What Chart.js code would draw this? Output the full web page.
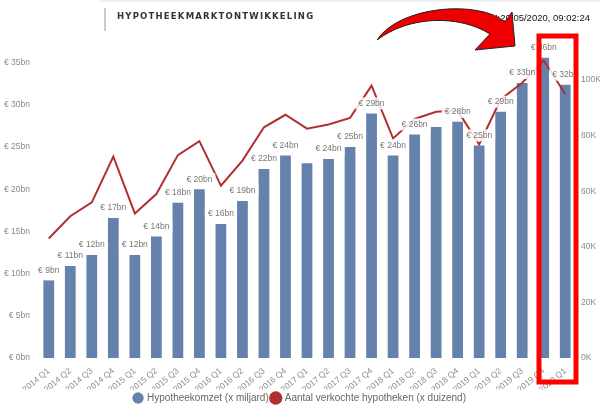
<!DOCTYPE html>
<html>
<head>
<meta charset="utf-8">
<script src="https://cdn.jsdelivr.net/npm/chart.js@4/dist/chart.umd.min.js"></script>
<style>
  html, body { margin: 0; padding: 0; background: #fff; }
  #wrap { position: relative; width: 600px; height: 407px; }
</style>
</head>
<body>
<div id="wrap"><canvas id="grafico"></canvas></div>
<script>
var kwartalen = ['2014 Q1', '2014 Q2', '2014 Q3', '2014 Q4', '2015 Q1', '2015 Q2', '2015 Q3', '2015 Q4',
  '2016 Q1', '2016 Q2', '2016 Q3', '2016 Q4', '2017 Q1', '2017 Q2', '2017 Q3', '2017 Q4',
  '2018 Q1', '2018 Q2', '2018 Q3', '2018 Q4', '2019 Q1', '2019 Q2', '2019 Q3', '2019 Q4', '2020 Q1'];
var omzet = [9.2, 10.9, 12.2, 16.6, 12.2, 14.4, 18.4, 20.0, 15.9, 18.6, 22.4, 24.0, 23.1, 23.6, 25.0, 29.0,
  24.0, 26.5, 27.4, 28.0, 25.2, 29.2, 32.6, 35.6, 32.4];
var omzetLabels = ['€ 9bn', '€ 11bn', '€ 12bn', '€ 17bn', '€ 12bn', '€ 14bn', '€ 18bn', '€ 20bn', '€ 16bn',
  '€ 19bn', '€ 22bn', '€ 24bn', '', '€ 24bn', '€ 25bn', '€ 29bn', '€ 24bn', '€ 26bn', '', '€ 28bn',
  '€ 25bn', '€ 29bn', '€ 33bn', '€ 36bn', '€ 32bn'];
var verkocht = [43, 51, 56, 72.5, 52, 59, 73, 78, 62, 71, 83, 87.5, 82.5, 84, 86.4, 98, 79, 86, 88.6, 89,
  76.8, 93, 99, 107, 95];
var linksTicks = [0, 5, 10, 15, 20, 25, 30, 35];
var rechtsTicks = [0, 20, 40, 60, 80, 100];

var grijs = '#8a8a8a';
var lettertype = '"Liberation Sans", Arial, sans-serif';

var labelPlugin = {
  id: 'omzetLabels',
  afterDatasetsDraw: function (chart) {
    var ctx = chart.ctx;
    var meta = chart.getDatasetMeta(0);
    ctx.save();
    ctx.font = '8.5px ' + lettertype;
    ctx.textAlign = 'center';
    ctx.textBaseline = 'middle';
    meta.data.forEach(function (bar, i) {
      var tekst = omzetLabels[i];
      if (!tekst) return;
      var w = ctx.measureText(tekst).width + 6;
      var y = bar.y - 10;
      ctx.fillStyle = 'rgba(255,255,255,0.85)';
      ctx.fillRect(bar.x - w / 2, y - 6, w, 12);
      ctx.fillStyle = '#777';
      ctx.fillText(tekst, bar.x, y);
    });
    ctx.restore();
  }
};

var decorPlugin = {
  id: 'decor',
  afterDraw: function (chart) {
    var ctx = chart.ctx;
    ctx.save();
    // kop
    ctx.fillStyle = '#eeeeee';
    ctx.fillRect(100, 0, 500, 2);
    ctx.fillStyle = '#cccccc';
    ctx.fillRect(104, 8, 2, 23);
    ctx.fillStyle = '#333';
    ctx.font = 'bold 8.5px "DejaVu Sans", sans-serif';
    ctx.textBaseline = 'middle';
    ctx.textAlign = 'left';
    var titel = 'HYPOTHEEKMARKTONTWIKKELING';
    var x = 117;
    for (var i = 0; i < titel.length; i++) {
      ctx.fillText(titel[i], x, 17);
      x += ctx.measureText(titel[i]).width + 1.2;
    }
    ctx.fillStyle = '#111';
    ctx.font = '9.5px ' + lettertype;
    ctx.textAlign = 'right';
    ctx.fillText('LAST REFRESH:20/05/2020, 09:02:24', 590, 18);
    // pijl
    ctx.fillStyle = '#ee0000';
    ctx.strokeStyle = '#222';
    ctx.lineWidth = 1;
    ctx.beginPath();
    ctx.moveTo(377, 40);
    ctx.bezierCurveTo(400, 5, 480, 0, 505, 22);
    ctx.lineTo(512, 12);
    ctx.lineTo(515, 46);
    ctx.lineTo(475, 50);
    ctx.lineTo(490, 34);
    ctx.bezierCurveTo(460, 15, 410, 15, 377, 40);
    ctx.closePath();
    ctx.fill();
    ctx.stroke();
    // kader
    ctx.strokeStyle = '#ff0000';
    ctx.lineWidth = 5;
    ctx.strokeRect(539, 36, 37, 346);
    ctx.restore();
  }
};

new Chart(document.getElementById('grafico'), {
  data: {
    labels: kwartalen,
    datasets: [{
      type: 'bar',
      label: 'Hypotheekomzet (x miljard)',
      data: omzet,
      yAxisID: 'links',
      backgroundColor: '#6482ab',
      categoryPercentage: 1,
      barPercentage: 0.5,
      order: 2
    }, {
      type: 'line',
      label: 'Aantal verkochte hypotheken (x duizend)',
      data: verkocht,
      yAxisID: 'rechts',
      borderColor: '#b03030',
      backgroundColor: '#b03030',
      borderWidth: 2,
      pointRadius: 0,
      tension: 0,
      order: 1
    }]
  },
  plugins: [labelPlugin, decorPlugin],
  options: {
    responsive: true,
    maintainAspectRatio: false,
    animation: false,
    layout: { padding: { top: 40, left: 0, right: 0, bottom: -6 } },
    plugins: {
      tooltip: { enabled: false },
      legend: {
        position: 'bottom',
        labels: {
          usePointStyle: true,
          pointStyle: 'circle',
          boxWidth: 8,
          boxHeight: 8,
          padding: 3,
          color: '#666',
          font: { size: 10, family: lettertype },
          sort: function (a, b) { return a.datasetIndex - b.datasetIndex; }
        }
      }
    },
    scales: {
      x: {
        grid: { display: false },
        border: { display: false },
        afterFit: function (axis) { axis.height = 32; },
        ticks: {
          color: grijs,
          maxRotation: 40,
          minRotation: 40,
          autoSkip: false,
          padding: 0,
          font: { size: 8.5, family: lettertype }
        }
      },
      links: {
        position: 'left',
        min: 0,
        max: 37.7,
        grid: { display: false, drawTicks: false },
        border: { display: false },
        afterFit: function (axis) { axis.width = 38; },
        afterBuildTicks: function (axis) {
          axis.ticks = linksTicks.map(function (v) { return { value: v }; });
        },
        ticks: {
          color: grijs,
          padding: 8,
          font: { size: 8.5, family: lettertype },
          callback: function (v) { return '€ ' + v + 'bn'; }
        }
      },
      rechts: {
        position: 'right',
        min: 0,
        max: 114.4,
        grid: { display: false, drawTicks: false },
        border: { display: false },
        afterFit: function (axis) { axis.width = 24; },
        afterBuildTicks: function (axis) {
          axis.ticks = rechtsTicks.map(function (v) { return { value: v }; });
        },
        ticks: {
          color: grijs,
          padding: 5,
          font: { size: 8.5, family: lettertype },
          callback: function (v) { return v + 'K'; }
        }
      }
    }
  }
});
</script>
</body>
</html>
